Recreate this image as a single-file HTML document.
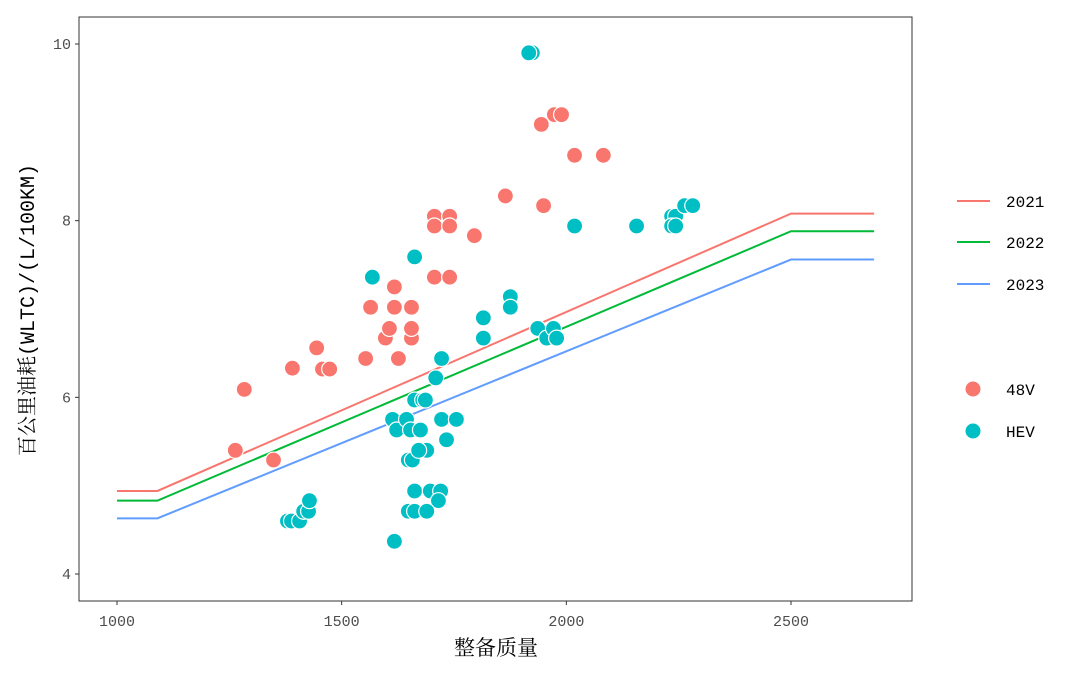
<!DOCTYPE html>
<html><head><meta charset="utf-8"><style>
body{margin:0;background:#fff}
text{font-family:"Liberation Mono","Noto Serif CJK SC",monospace}
</style></head><body>
<svg id="chart" width="1080" height="675"></svg>
<script>
const xTicks=[1000,1500,2000,2500];
const yTicks=[4,6,8,10];
const years=["2021","2022","2023"];
const lineStart=[4.94,4.83,4.63];
const lineEnd=[8.08,7.88,7.56];
const lineBreaks=[1000,1090,2500,2685];
const x48=[1260,1280,1345,1387,1441,1454,1470,1550,1561,1594,1603,1614,1614,1623,1652,1652,1652,1703,1703,1703,1737,1737,1737,1792,1861,1941,1946,1970,1986,2015,2079];
const y48=[5.40,6.09,5.29,6.33,6.56,6.32,6.32,6.44,7.02,6.67,6.78,7.25,7.02,6.44,6.67,7.02,6.78,8.05,7.94,7.36,8.05,7.94,7.36,7.83,8.28,9.09,8.17,9.20,9.20,8.74,8.74];
const xHev=[1921,1913,1565,1659,1376,1385,1403,1412,1423,1425,1614,1872,1872,1812,1812,1719,1706,1610,1619,1641,1650,1659,1677,1683,1672,1645,1654,1686,1668,1730,1719,1752,1659,1694,1717,1712,1645,1659,1686,1933,1953,1968,1975,2153,2015,2231,2240,2231,2240,2260,2278];
const yHev=[9.90,9.90,7.36,7.59,4.60,4.60,4.60,4.71,4.71,4.83,4.37,7.14,7.02,6.90,6.67,6.44,6.22,5.75,5.63,5.75,5.63,5.97,5.97,5.97,5.63,5.29,5.29,5.40,5.40,5.52,5.75,5.75,4.94,4.94,4.94,4.83,4.71,4.71,4.71,6.78,6.67,6.78,6.67,7.94,7.94,8.05,8.05,7.94,7.94,8.17,8.17];
const NS="http://www.w3.org/2000/svg";
const svg=document.getElementById('chart');
const X=v=>117+(v-1000)*(674/1500);
const Y=v=>574-(v-4)*(530/6);
function el(t,a,p){const e=document.createElementNS(NS,t);for(const k in a)e.setAttribute(k,a[k]);(p||svg).appendChild(e);return e;}
const lineColors=["#F8766D","#00BA38","#619CFF"];
years.forEach((yr,i)=>{
  const ys=[lineStart[i],lineStart[i],lineEnd[i],lineEnd[i]];
  const pts=lineBreaks.map((b,j)=>X(b)+","+Y(ys[j])).join(" ");
  const p=el('polyline',{points:pts,fill:'none',stroke:lineColors[i],'stroke-width':2});
  
  
});
function dots(xs,ys,c,n){xs.forEach((v,i)=>{const d=el('circle',{cx:X(v)+1.5,cy:Y(ys[i]),r:8,fill:c,stroke:'#fff','stroke-width':1.2});
  
  });}
dots(x48,y48,"#F8766D","48v");
dots(xHev,yHev,"#00BFC4","hev");
const fr=el('rect',{x:79,y:17,width:833,height:584,fill:'none',stroke:'#333','stroke-width':1});


xTicks.forEach(t=>{el('line',{x1:X(t),x2:X(t),y1:601,y2:605,stroke:'#333'});
  const tx=el('text',{x:X(t),y:626,'text-anchor':'middle','font-size':15,fill:'#4d4d4d'});tx.textContent=t;
  
  });
yTicks.forEach(t=>{el('line',{x1:75,x2:79,y1:Y(t),y2:Y(t),stroke:'#333'});
  const tx=el('text',{x:71,y:Y(t)+5,'text-anchor':'end','font-size':15,fill:'#4d4d4d'});tx.textContent=t;
  
  });
const xt=el('text',{x:496,y:655,'text-anchor':'middle','font-size':21,fill:'#000'});xt.textContent="整备质量";


const yt=el('text',{x:0,y:0,'text-anchor':'middle','font-size':20,fill:'#000',transform:'translate(34,310) rotate(-90)'});yt.textContent="百公里油耗(WLTC)/(L/100KM)";


const legY=[201,242,284];
years.forEach((yr,i)=>{el('line',{x1:957,x2:990,y1:legY[i],y2:legY[i],stroke:lineColors[i],'stroke-width':2});
  const t=el('text',{x:1006,y:legY[i]+6,'font-size':16,fill:'#000'});t.textContent=yr;
  
  });
[["48V","#F8766D",389],["HEV","#00BFC4",431]].forEach(([n,c,y])=>{el('circle',{cx:973,cy:y,r:8,fill:c,stroke:'#fff'});
  const t=el('text',{x:1006,y:y+6,'font-size':16,fill:'#000'});t.textContent=n;
  
  });
</script>
</body></html>
